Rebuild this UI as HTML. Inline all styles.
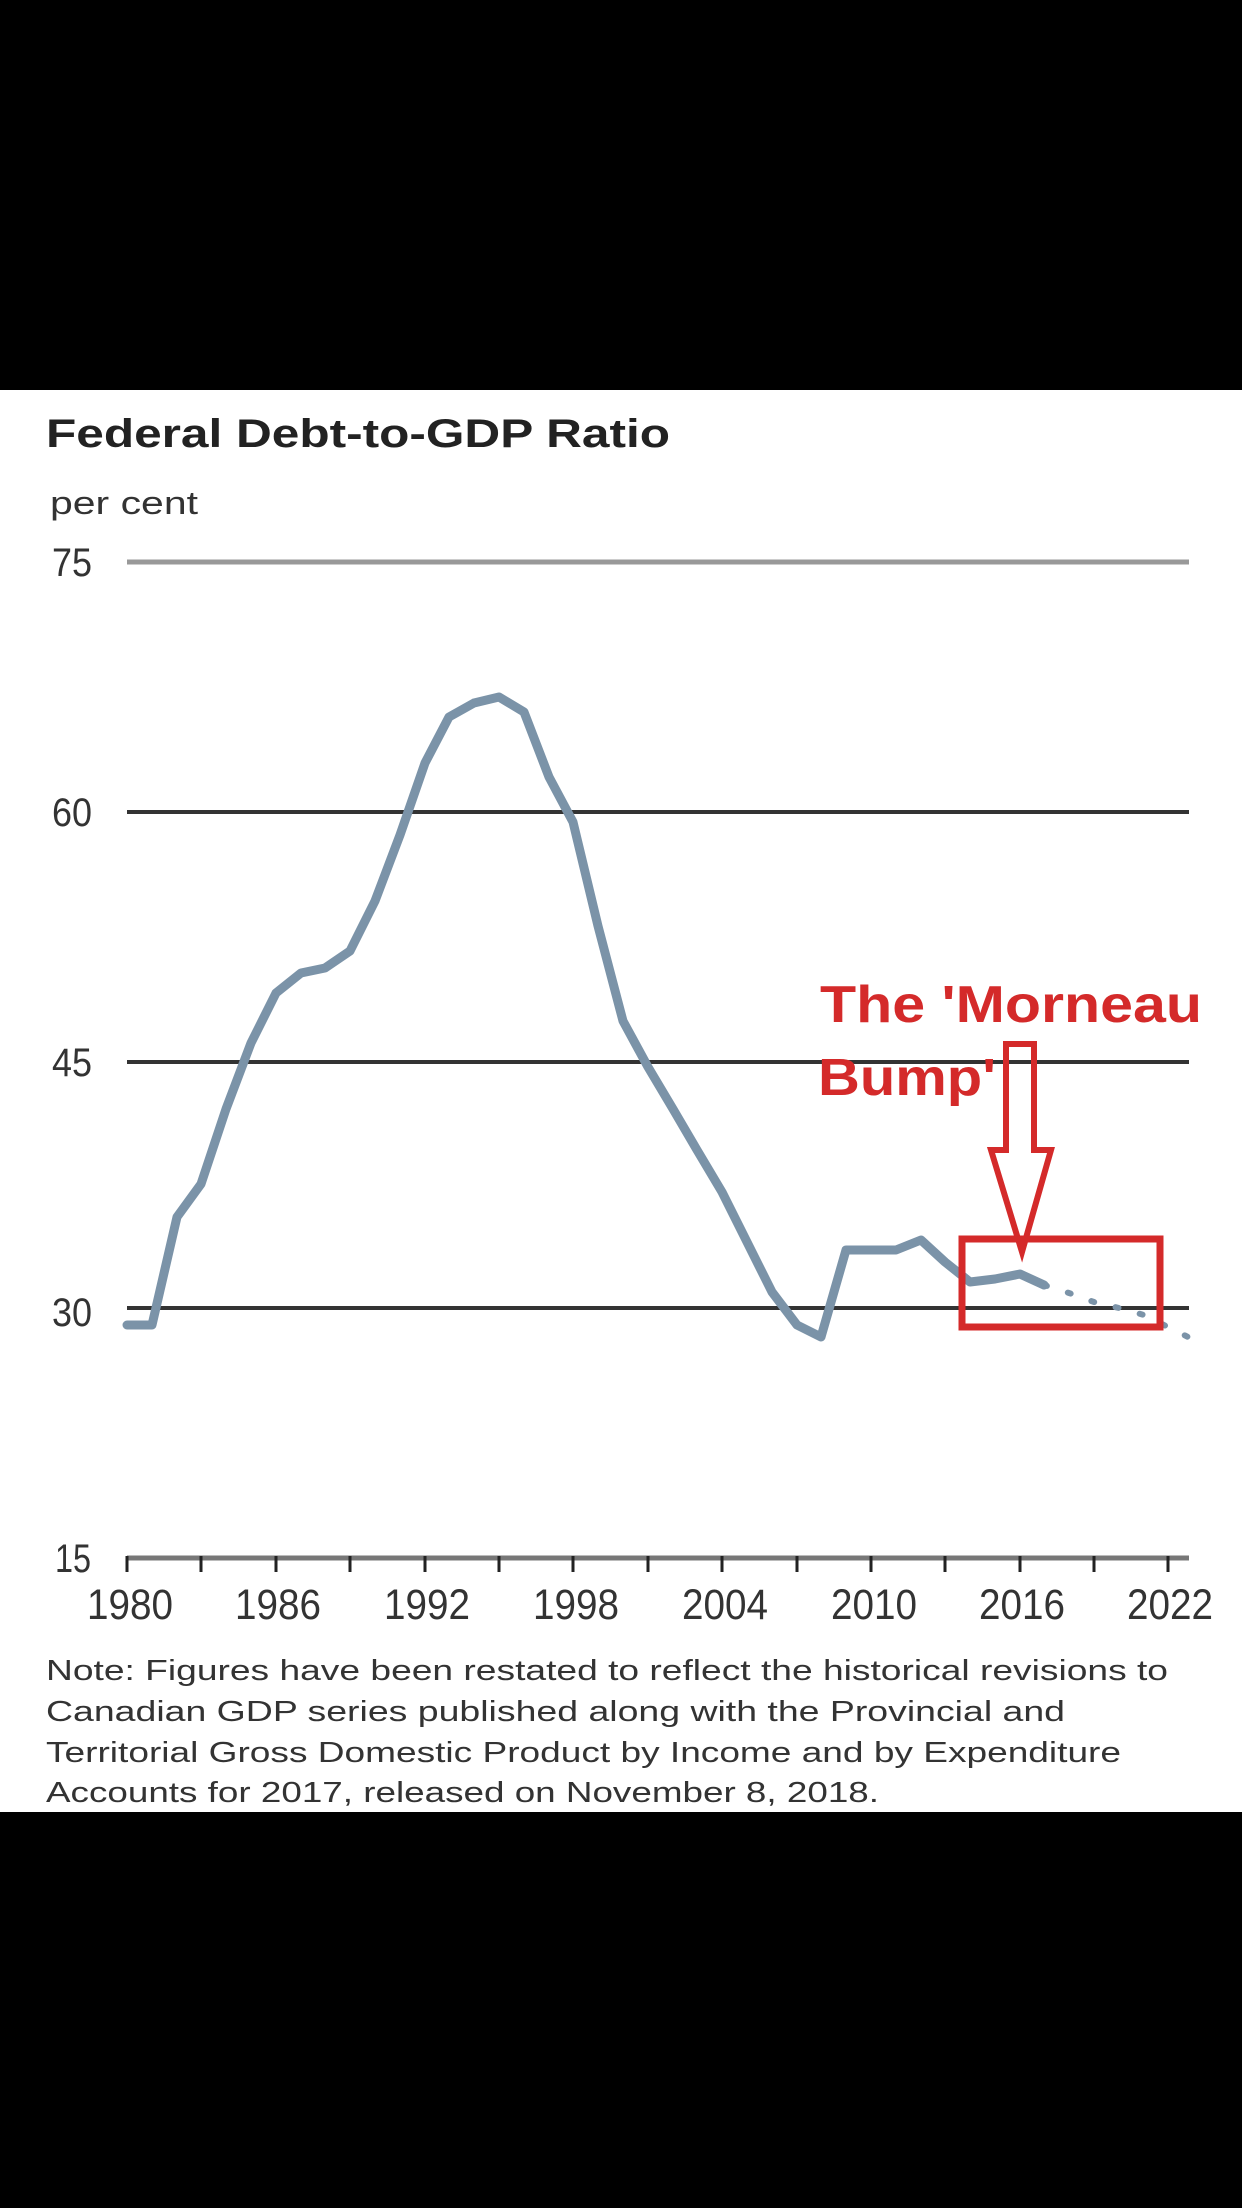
<!DOCTYPE html>
<html><head><meta charset="utf-8"><style>
html,body{margin:0;padding:0;background:#000;}
svg{display:block;}
</style></head><body>
<svg width="1242" height="2208" viewBox="0 0 1242 2208" xmlns="http://www.w3.org/2000/svg">
<rect x="0" y="0" width="1242" height="2208" fill="#000"/>
<rect x="0" y="390" width="1242" height="1422" fill="#fff"/>
<text x="46" y="447" font-family="Liberation Sans, sans-serif" font-weight="bold" font-size="40" fill="#222" textLength="624" lengthAdjust="spacingAndGlyphs">Federal Debt-to-GDP Ratio</text>
<text x="50" y="514" font-family="Liberation Sans, sans-serif" font-size="32" fill="#333" textLength="148" lengthAdjust="spacingAndGlyphs">per cent</text>
<g font-family="Liberation Sans, sans-serif" font-size="40" fill="#333">
<text x="52" y="576" textLength="40" lengthAdjust="spacingAndGlyphs">75</text>
<text x="52" y="826" textLength="40" lengthAdjust="spacingAndGlyphs">60</text>
<text x="52" y="1076" textLength="40" lengthAdjust="spacingAndGlyphs">45</text>
<text x="52" y="1326" textLength="40" lengthAdjust="spacingAndGlyphs">30</text>
<text x="55" y="1572" textLength="36" lengthAdjust="spacingAndGlyphs">15</text>
</g>
<line x1="127" y1="562" x2="1189" y2="562" stroke="#999" stroke-width="5"/>
<line x1="127" y1="812" x2="1189" y2="812" stroke="#333" stroke-width="4"/>
<line x1="127" y1="1062" x2="1189" y2="1062" stroke="#333" stroke-width="4"/>
<line x1="127" y1="1308" x2="1189" y2="1308" stroke="#333" stroke-width="4"/>
<line x1="127" y1="1558" x2="1189" y2="1558" stroke="#777" stroke-width="5"/>
<g stroke="#222" stroke-width="3">
<line x1="127" y1="1556" x2="127" y2="1572"/><line x1="201" y1="1556" x2="201" y2="1572"/><line x1="276" y1="1556" x2="276" y2="1572"/><line x1="350" y1="1556" x2="350" y2="1572"/><line x1="425" y1="1556" x2="425" y2="1572"/><line x1="499" y1="1556" x2="499" y2="1572"/><line x1="573" y1="1556" x2="573" y2="1572"/><line x1="648" y1="1556" x2="648" y2="1572"/><line x1="722" y1="1556" x2="722" y2="1572"/><line x1="797" y1="1556" x2="797" y2="1572"/><line x1="871" y1="1556" x2="871" y2="1572"/><line x1="945" y1="1556" x2="945" y2="1572"/><line x1="1020" y1="1556" x2="1020" y2="1572"/><line x1="1094" y1="1556" x2="1094" y2="1572"/><line x1="1168" y1="1556" x2="1168" y2="1572"/>
</g>
<g font-family="Liberation Sans, sans-serif" font-size="43" fill="#333" text-anchor="middle">
<text x="130" y="1619" textLength="86" lengthAdjust="spacingAndGlyphs">1980</text>
<text x="278" y="1619" textLength="86" lengthAdjust="spacingAndGlyphs">1986</text>
<text x="427" y="1619" textLength="86" lengthAdjust="spacingAndGlyphs">1992</text>
<text x="576" y="1619" textLength="86" lengthAdjust="spacingAndGlyphs">1998</text>
<text x="725" y="1619" textLength="86" lengthAdjust="spacingAndGlyphs">2004</text>
<text x="874" y="1619" textLength="86" lengthAdjust="spacingAndGlyphs">2010</text>
<text x="1022" y="1619" textLength="86" lengthAdjust="spacingAndGlyphs">2016</text>
<text x="1170" y="1619" textLength="86" lengthAdjust="spacingAndGlyphs">2022</text>
</g>
<polyline fill="none" stroke="#7b93a8" stroke-width="9" stroke-linejoin="round" stroke-linecap="round" points="127,1325 152,1325 177,1217 201,1184 226,1109 251,1043 276,993 301,973 325,968 350,951 375,901 400,835 425,763 449,717 474,703 499,697 524,712 549,777 573,822 598,926 623,1021 648,1067 673,1109 697,1150 722,1192 747,1242 772,1292 797,1325 821,1337 846,1250 871,1250 896,1250 921,1240 945,1262 970,1282 995,1279 1020,1274 1044,1285"/>
<polyline fill="none" stroke="#7b93a8" stroke-width="6" stroke-dasharray="3 22" stroke-linecap="round" points="1044,1285 1069,1293 1094,1302 1119,1308 1144,1315 1168,1327 1188,1337"/>
<g font-family="Liberation Sans, sans-serif" font-weight="bold" font-size="52" fill="#d42a2a">
<text x="820" y="1022" textLength="382" lengthAdjust="spacingAndGlyphs">The 'Morneau</text>
<text x="818" y="1095" textLength="178" lengthAdjust="spacingAndGlyphs">Bump'</text>
</g>
<polygon points="1006,1044 1034,1044 1034,1150 1051,1150 1022,1252 991,1150 1006,1150" fill="none" stroke="#d42a2a" stroke-width="6" stroke-linejoin="miter"/>
<rect x="962" y="1239" width="198" height="88" fill="none" stroke="#d42a2a" stroke-width="7"/>
<g font-family="Liberation Sans, sans-serif" font-size="29" fill="#333">
<text x="46" y="1680" textLength="1122" lengthAdjust="spacingAndGlyphs">Note: Figures have been restated to reflect the historical revisions to</text>
<text x="46" y="1721" textLength="1019" lengthAdjust="spacingAndGlyphs">Canadian GDP series published along with the Provincial and</text>
<text x="46" y="1762" textLength="1075" lengthAdjust="spacingAndGlyphs">Territorial Gross Domestic Product by Income and by Expenditure</text>
<text x="46" y="1802" textLength="833" lengthAdjust="spacingAndGlyphs">Accounts for 2017, released on November 8, 2018.</text>
</g>
</svg>
</body></html>
